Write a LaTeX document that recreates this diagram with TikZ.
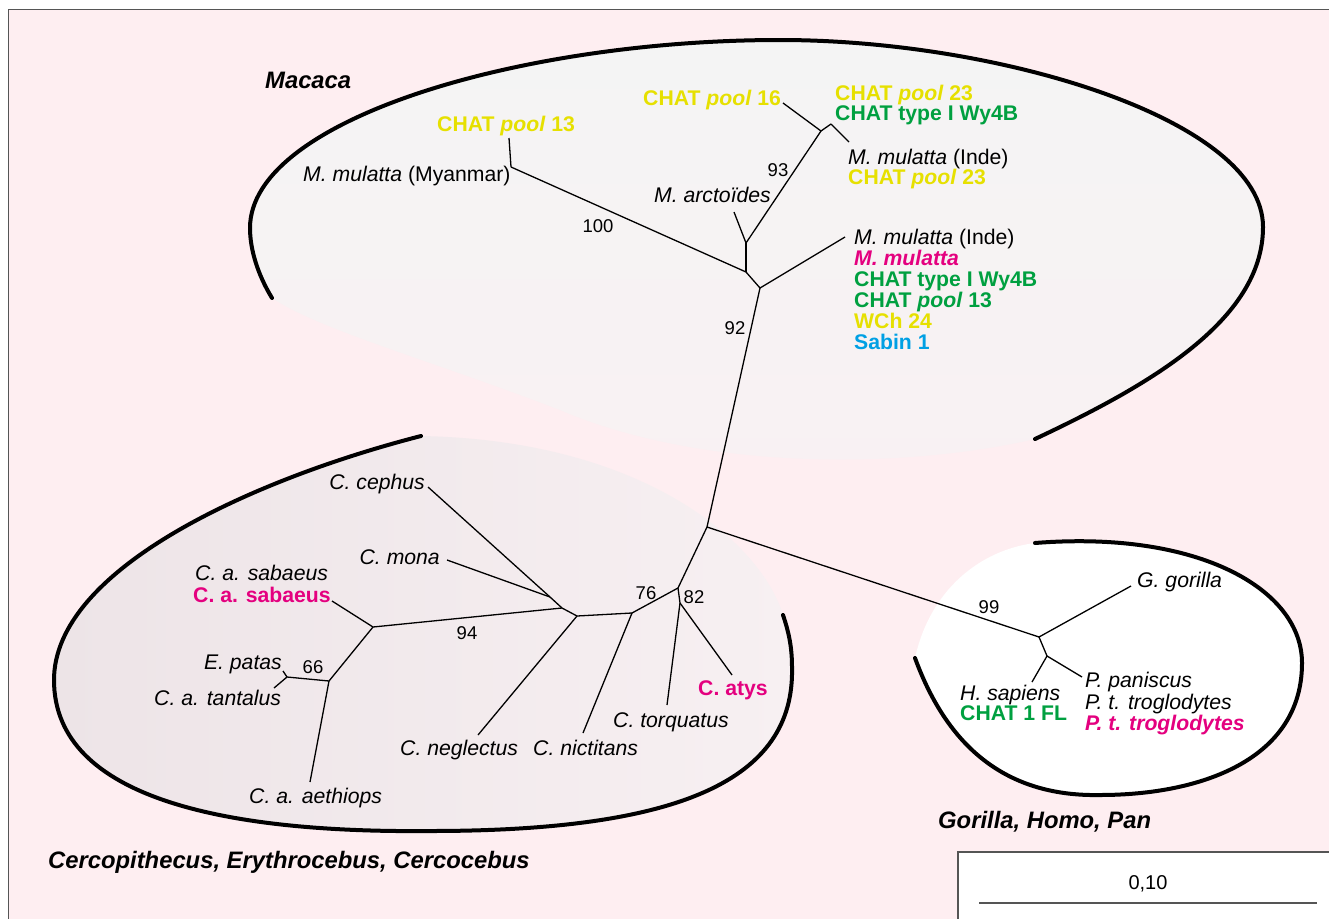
\documentclass[tikz,border=0pt]{standalone}
\usepackage{fontspec}
\setmainfont{Liberation Sans}
\definecolor{bgpink}{HTML}{FEEEF1}
\definecolor{macgrey}{HTML}{F4F4F4}
\definecolor{cercL}{HTML}{EDE4E7}
\definecolor{cercR}{HTML}{F7F0F2}
\definecolor{yel}{HTML}{E6E000}
\definecolor{grn}{HTML}{00A040}
\definecolor{mag}{HTML}{E4007F}
\definecolor{cyn}{HTML}{00A0E4}
\definecolor{framegrey}{HTML}{555555}
\tikzset{
  lab/.style={inner sep=0pt, anchor=base west, font=\fontsize{21.2}{23}\selectfont},
  labr/.style={lab, anchor=base east},
  sp/.style={lab, font=\fontsize{21.2}{23}\selectfont\itshape},
  spr/.style={sp, anchor=base east},
  bl/.style={lab, font=\fontsize{21.2}{23}\selectfont\bfseries},
  bli/.style={lab, font=\fontsize{21.2}{23}\selectfont\bfseries\itshape},
  head/.style={lab, font=\fontsize{23.8}{25}\selectfont\bfseries\itshape},
  boot/.style={inner sep=0pt, anchor=center, font=\fontsize{18.5}{20}\selectfont},
  br/.style={line width=1.3pt},
  bigarc/.style={line width=4pt, line cap=round},
}
\begin{document}
\begin{tikzpicture}[x=1pt,y=-1pt]
\useasboundingbox (0,0) rectangle (1329,918);
% background and frame
\fill[white] (0,0) rectangle (1329,918);
\fill[bgpink] (8.5,9.5) rectangle (1340,930);
\draw[framegrey, line width=1.5pt] (8.5,930) -- (8.5,9.5) -- (1340,9.5);

% Macaca region
\shade[top color=macgrey, middle color=macgrey, bottom color=macgrey!55!bgpink]
  (272,298) .. controls (258,275) and (250,250) .. (250,228)
  .. controls (250,120) and (520,40) .. (780,40)
  .. controls (1000,40) and (1263,120) .. (1263,227)
  .. controls (1263,320) and (1150,385) .. (1035,439)
  .. controls (900,470) and (700,470) .. (560,410)
  .. controls (430,360) and (320,330) .. (272,298) -- cycle;
\draw[bigarc] (272,298) .. controls (258,275) and (250,250) .. (250,228)
  .. controls (250,120) and (520,40) .. (780,40)
  .. controls (1000,40) and (1263,120) .. (1263,227)
  .. controls (1263,320) and (1150,385) .. (1035,439);

% Cercopithecus region
\shade[left color=cercL, right color=cercR]
  (421,436) .. controls (250,480) and (54,570) .. (54,680)
  .. controls (54,800) and (230,833) .. (430,831)
  .. controls (680,831) and (795,780) .. (792,667)
  .. controls (792,645) and (788,630) .. (783,615)
  .. controls (760,540) and (640,440) .. (421,436) -- cycle;
\draw[bigarc] (421,436) .. controls (250,480) and (54,570) .. (54,680)
  .. controls (54,800) and (230,833) .. (430,831)
  .. controls (680,831) and (795,780) .. (792,667)
  .. controls (792,645) and (788,630) .. (783,615);

% Gorilla region
\fill[white] (1035,543) .. controls (1200,530) and (1302,590) .. (1302,663)
  .. controls (1302,760) and (1200,795) .. (1100,795)
  .. controls (1000,797) and (945,740) .. (915,658)
  .. controls (930,590) and (980,550) .. (1035,543) -- cycle;
\draw[bigarc] (1035,543) .. controls (1200,530) and (1302,590) .. (1302,663)
  .. controls (1302,760) and (1200,795) .. (1100,795)
  .. controls (1000,797) and (945,740) .. (915,658);

% scale box
\node[draw=framegrey, line width=1.5pt, fill=white, inner sep=0pt, minimum width=383pt, minimum height=79pt, anchor=north west] (scalebox) at (957,851) {};
\coordinate (sbL) at (979,903);
\coordinate (sbR) at (1317,903);
\draw[framegrey, line width=2pt] (sbL) -- (sbR);
\node[boot, font=\fontsize{20}{22}\selectfont] (scalelab) at (1148,884) {0,10};

% tree coordinates
\coordinate (root) at (707,527);
\coordinate (mroot) at (760,288);
\coordinate (mA) at (746,272);
\coordinate (mB) at (746,243);
\coordinate (m93) at (821,131);
\coordinate (mC) at (831,124);
\coordinate (tInde1) at (849,142);
\coordinate (t16) at (783,103);
\coordinate (tArct) at (734,212);
\coordinate (tMyan) at (511,167);
\coordinate (t13) at (509,138);
\coordinate (tInde2) at (845,237);
\coordinate (c1) at (678,588);
\coordinate (c2) at (680,603);
\coordinate (tTorq) at (667,705);
\coordinate (tAtys) at (732,675);
\coordinate (c76) at (632,613);
\coordinate (tNict) at (583,733);
\coordinate (c3) at (577,616);
\coordinate (tNegl) at (478,735);
\coordinate (c4) at (562,608);
\coordinate (c5) at (550,597);
\coordinate (tCeph) at (428,487);
\coordinate (tMona) at (447,560);
\coordinate (c94) at (373,627);
\coordinate (tSab) at (332,601);
\coordinate (c6) at (329,681);
\coordinate (tAeth) at (310,782);
\coordinate (c66) at (287,677);
\coordinate (tPatas) at (283,671);
\coordinate (tTant) at (274,688);
\coordinate (g1) at (1039,637);
\coordinate (g2) at (1047,656);
\coordinate (tGor) at (1131,586);
\coordinate (tHs) at (1032,682);
\coordinate (tPp) at (1082,677);

% branches
\draw[br] (root) -- (mroot);
\draw[br] (mroot) -- (mA);
\draw[br] (mroot) -- (tInde2);
\draw[br] (mA) -- (mB);
\draw[br] (mA) -- (tMyan);
\draw[br] (tMyan) -- (t13);
\draw[br] (mB) -- (tArct);
\draw[br] (mB) -- (m93);
\draw[br] (m93) -- (t16);
\draw[br] (m93) -- (mC);
\draw[br] (mC) -- (tInde1);
\draw[br] (root) -- (c1);
\draw[br] (c1) -- (c2);
\draw[br] (c2) -- (tTorq);
\draw[br] (c2) -- (tAtys);
\draw[br] (c1) -- (c76);
\draw[br] (c76) -- (tNict);
\draw[br] (c76) -- (c3);
\draw[br] (c3) -- (tNegl);
\draw[br] (c3) -- (c4);
\draw[br] (c4) -- (c5);
\draw[br] (c5) -- (tCeph);
\draw[br] (c5) -- (tMona);
\draw[br] (c4) -- (c94);
\draw[br] (c94) -- (tSab);
\draw[br] (c94) -- (c6);
\draw[br] (c6) -- (tAeth);
\draw[br] (c6) -- (c66);
\draw[br] (c66) -- (tPatas);
\draw[br] (c66) -- (tTant);
\draw[br] (root) -- (g1);
\draw[br] (g1) -- (tGor);
\draw[br] (g1) -- (g2);
\draw[br] (g2) -- (tHs);
\draw[br] (g2) -- (tPp);

% headings
\node[head] (hMac) at (265,88) {Macaca};
\node[head] (hCer) at (48,868) {Cercopithecus, Erythrocebus, Cercocebus};
\node[head] (hGor) at (938,828) {Gorilla, Homo, Pan};

% Macaca labels
\node[bl, text=yel] (lP13) at (437,131) {CHAT \textit{pool} 13};
\node[lab] (lMyan) at (303,181) {\textit{M. mulatta} (Myanmar)};
\node[bl, text=yel] (lP16) at (643,105) {CHAT \textit{pool} 16};
\node[bl, text=yel] (lP23a) at (835,100) {CHAT \textit{pool} 23};
\node[bl, text=grn] (lWyA) at (835,120) {CHAT type I Wy4B};
\node[lab] (lInde1) at (848,164) {\textit{M. mulatta} (Inde)};
\node[bl, text=yel] (lP23b) at (848,184) {CHAT \textit{pool} 23};
\node[sp] (lArct) at (654,202) {M. arcto\"ides};
\node[lab] (lInde2) at (854,244) {\textit{M. mulatta} (Inde)};
\node[bli, text=mag] (lMm) at (854,265) {M. mulatta};
\node[bl, text=grn] (lWyB) at (854,286) {CHAT type I Wy4B};
\node[bl, text=grn] (lP13g) at (854,307) {CHAT \textit{pool} 13};
\node[bl, text=yel] (lWch) at (854,328) {WCh 24};
\node[bl, text=cyn] (lSab1) at (854,349) {Sabin 1};
\node[boot] (b93) at (778,170) {93};
\node[boot] (b100) at (598,226) {100};
\node[boot] (b92) at (735,328) {92};

% Cercopithecus labels
\node[spr] (lCeph) at (425,489) {C. cephus};
\node[spr] (lMona) at (440,564) {C. mona};
\node[sp] (lSabA) at (195,580) {C. a. sabaeus};
\node[bl, text=mag] (lSabB) at (193,602) {C. a. sabaeus};
\node[spr] (lPatas) at (282,669) {E. patas};
\node[sp] (lTant) at (154,705) {C. a. tantalus};
\node[sp] (lAeth) at (249,803) {C. a. aethiops};
\node[sp] (lNegl) at (400,755) {C. neglectus};
\node[sp] (lNict) at (533,755) {C. nictitans};
\node[sp] (lTorq) at (613,727) {C. torquatus};
\node[bl, text=mag] (lAtys) at (698,695) {C. atys};
\node[boot] (b76) at (646,593) {76};
\node[boot] (b82) at (694,597) {82};
\node[boot] (b94) at (467,633) {94};
\node[boot] (b66) at (313,667) {66};

% Gorilla labels
\node[boot] (b99) at (989,607) {99};
\node[sp] (lGor) at (1137,587) {G. gorilla};
\node[sp] (lHs) at (960,700) {H. sapiens};
\node[bl, text=grn] (lFL) at (960,720) {CHAT 1 FL};
\node[sp] (lPp) at (1085,687) {P. paniscus};
\node[sp] (lPt) at (1085,709) {P. t. troglodytes};
\node[bli, text=mag] (lPtm) at (1085,730) {P. t. troglodytes};
\end{tikzpicture}
\end{document}
